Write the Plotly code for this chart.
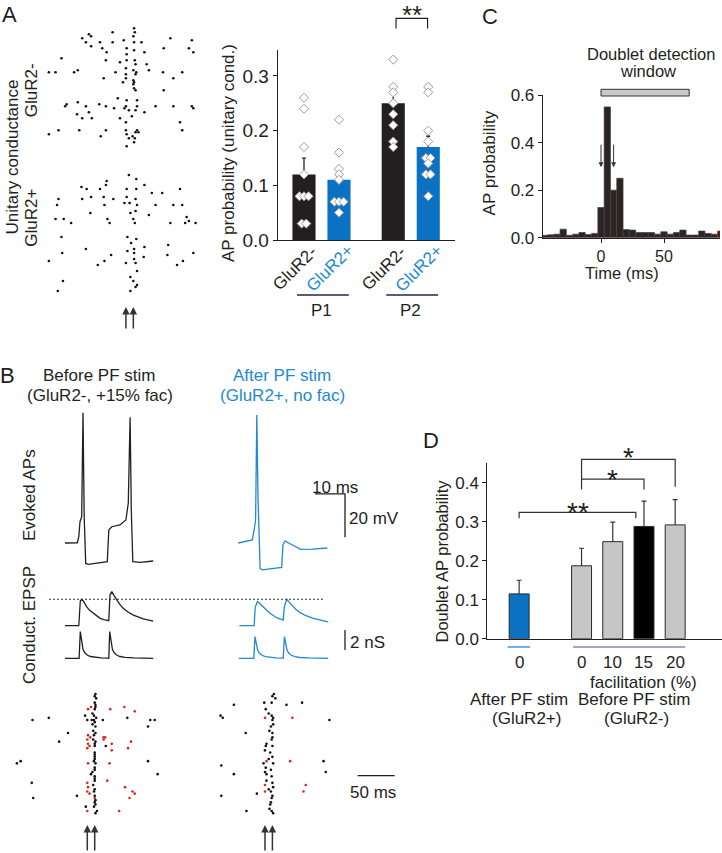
import plotly.graph_objects as go

W, H = 722, 853
FONT = "Liberation Sans, Arial, Helvetica, sans-serif"
INK = "#231f20"
BLUE_FILL = "#0a71c3"
BLUE = "#2189d1"
RED = "#e2231a"
GRAY_FILL = "#c6c6c6"

# ======================= DATA =======================
# Panel A raster: spike time (ms) and trial number
rasterA_minus_t = [1, -28, 2, -60, -69, -57, 50, 79, 0, -64, -45, -28, -13, 1, 11, -57, 41, 75, -9, -42,
                   1, 81, -36, 15, -9, -97, -37, -9, 2, -18, 3, 18, -114, -105, -80, -75, -10, 0, -40, -24,
                   4, 21, 40, 66, 3, -10, 54, -10, 0, -14, 1, 0, 1, 3, 41, -21, 5, -9, -92, -75,
                   -90, -64, -46, -37, -10, 5, 30, 54, 79, 81, -76, -60, -26, -12, -6, 3, -56, -2, -69, -18,
                   15, -10, 63, -114, -101, -73, -44, -37, -10, 5, 66, -9, -1, 3, 7, -6, 2, -9, 1]
rasterA_minus_trial = [0, 2, 2, 3, 5, 4, 5, 6, 4, 7, 7, 7, 6, 7, 7, 9, 10, 10, 10, 10,
                       11, 12, 12, 12, 13, 15, 16, 16, 16, 17, 18, 18, 22, 22, 22, 21, 20, 21, 25, 22,
                       22, 21, 22, 22, 23, 23, 25, 25, 26, 27, 27, 28, 30, 31, 31, 35, 36, 36, 39, 37,
                       38, 39, 38, 39, 39, 39, 39, 39, 39, 40, 43, 42, 40, 40, 41, 41, 45, 44, 45, 45,
                       42, 47, 47, 53, 51, 51, 54, 51, 51, 51, 51, 53, 54, 52, 52, 55, 55, 59, 57]
rasterA_plus_t = [-6, -36, -37, 4, 15, -70, -63, -45, -9, 4, 25, 39, 63, -101, -69, -57, -40, -27, -9, 3,
                  -103, -39, -12, -5, 5, 30, 54, 66, -4, 3, -58, -105, -94, -84, -35, -32, 0, 2, 21, 50,
                  72, 75, 70, 84, -97, -8, 4, -3, 47, 15, -64, -96, -8, 1, 1, 81, -114, -30, -39, -48,
                  -10, 1, 3, 5, 14, 46, 67, 59, -95, -4, 0, 5, 3, -102, -4]
rasterA_plus_trial = [0, 3, 5, 2, 5, 6, 7, 7, 7, 7, 9, 9, 7, 12, 12, 11, 11, 12, 11, 12,
                      15, 15, 14, 14, 15, 15, 15, 15, 19, 18, 19, 22, 22, 24, 22, 24, 22, 24, 20, 24,
                      21, 23, 24, 24, 31, 31, 32, 34, 35, 36, 37, 39, 38, 37, 39, 39, 43, 40, 43, 45,
                      44, 42, 44, 48, 41, 40, 43, 45, 53, 51, 53, 55, 56, 58, 58]
stimA_t = [-10, 0]

# Panel A bars: AP probability (unitary cond.)
barA_cond = ["GluR2-", "GluR2+", "GluR2-", "GluR2+"]
barA_age = ["P1", "P1", "P2", "P2"]
barA_mean = [0.12, 0.11, 0.25, 0.17]
barA_sem = [0.03, 0.02, 0.02, 0.02]
barA_cells = [
    [0.26, 0.24, 0.17, 0.12, 0.08, 0.08, 0.08, 0.03, 0.03],
    [0.22, 0.16, 0.13, 0.12, 0.11, 0.07, 0.07, 0.07, 0.05],
    [0.37, 0.33, 0.28, 0.27, 0.25, 0.23, 0.21, 0.18, 0.17],
    [0.28, 0.27, 0.20, 0.18, 0.15, 0.15, 0.14, 0.12, 0.12, 0.08],
]

# Panel C histogram (5 ms bins)
histC_t = [-45, -40, -35, -30, -25, -20, -15, -10, -5, 0, 5, 10, 15, 20, 25, 30, 35, 40, 45,
           50, 55, 60, 65, 70, 75, 80, 85, 90, 95]
histC_p = [0.010, 0.012, 0.015, 0.036, 0.010, 0.015, 0.022, 0.013, 0.018, 0.127, 0.55, 0.20, 0.25,
           0.034, 0.032, 0.022, 0.022, 0.022, 0.015, 0.025, 0.015, 0.022, 0.032, 0.011, 0.011,
           0.028, 0.018, 0.015, 0.028]
windowC = [0, 70]
stimC_t = [0, 10]

# Panel B traces (time ms)
ap_before_t = [-5, -0.9, -0.4, 0, 0.56, 1.0, 1.4, 1.9, 2.8, 9.1, 9.6, 10.6, 13.3, 15.3, 16.1, 16.7, 17.1,
               17.6, 20, 24.4]
ap_before_v = [-60, -59.9, -57.1, -50.2, -47.9, 0, -47.9, -69.4, -69.8, -68.6, -54.0, -52.5, -51.7, -49.4,
               -41.6, -2.1, -44.8, -68.6, -68.9, -68.3]
ap_after_t = [-5.6, -0.9, -0.3, 0.2, 0.6, 1.0, 1.7, 2.4, 8.9, 9.3, 10, 11, 12.4, 13.8, 15.2, 19.1, 24.1]
ap_after_v = [-60, -58.6, -54, -49.4, -1, -38.7, -71.7, -72.4, -71.2, -60.9, -59.1, -59.8, -60.9, -62.0,
              -62.9, -62.8, -62.3]
epsp_before_t = [-5, -0.4, 0.1, 0.6, 1.2, 2.2, 3.2, 4.4, 5.5, 6.7, 8.0, 9.1, 9.6, 10.0, 10.6, 11.2, 12.2,
                 13.2, 14.4, 16, 17.8, 19.5, 21.1, 24.4]
epsp_before_v = [0, 0, 11.4, 12.2, 11.2, 8.8, 7.1, 5.7, 4.4, 3.4, 2.8, 2.3, 2.3, 14.2, 15.7, 14.2, 11.9,
                 9.9, 8.0, 6.3, 4.9, 3.9, 3.1, 2.1]
epsp_after_t = [-5.2, -0.3, 0.1, 0.8, 1.6, 2.8, 3.9, 5.0, 6.1, 7.2, 8.3, 9.4, 9.8, 10.2, 10.6, 11.3, 12.2,
                13.5, 15.0, 17, 19.4, 22, 24.4]
epsp_after_v = [0, 0, 8.6, 11.1, 10.2, 8.8, 7.1, 5.7, 4.6, 3.7, 3.1, 2.6, 8.8, 11.2, 12.2, 11.0, 9.5,
                7.7, 6.0, 4.6, 3.4, 2.5, 1.8]
epsp_threshold = 12.2
g_before_t = [-5, -0.3, 0.1, 0.5, 1.0, 1.6, 2.4, 3.5, 5, 7, 9.5, 9.6, 9.9, 10.3, 10.8, 11.4, 12.2, 13.3,
              15, 18, 24.4]
g_before_v = [0, 0, 2.67, 1.6, 0.9, 0.55, 0.33, 0.18, 0.09, 0.04, 0.01, 0, 2.67, 1.6, 0.9, 0.55, 0.33,
              0.18, 0.09, 0.04, 0]
g_after_t = [-5.4, -0.4, 0, 0.4, 0.9, 1.5, 2.3, 3.5, 5, 7, 9.3, 9.4, 9.8, 10.2, 10.7, 11.3, 12.1, 13.3,
             15, 18, 24.4]
g_after_v = [0, 0, 2.17, 1.35, 0.8, 0.5, 0.3, 0.16, 0.08, 0.04, 0.01, 0, 2.17, 1.35, 0.8, 0.5, 0.3, 0.16,
             0.08, 0.04, 0]

# Panel B rasters (time ms, trial)
rB_pre_col_t = [11, 10, 12, 10, 11, 11, 10, 7, 9, 12, 9, 10, 7, 11, 8, 11, 9, 8, 11, 10, 10, 10, 10, 10,
                10, 9, 11, 10, 10, 7, 5, 10, 10, 10, 8, 10, 9, 10, 11, 10, 11, 9, 13, 11]
rB_pre_col_trial = [0, 1, 2, 4, 5, 6, 7, 9, 10, 11, 12, 13, 14, 15, 17, 18, 19, 21, 22, 23, 24, 27, 28, 29,
                    30, 31, 32, 34, 35, 36, 37, 38, 39, 40, 42, 44, 45, 47, 49, 50, 51, 52, 54, 55]
rB_pre_other_t = [-74, -52, -26, -38, -95, -90, -75, -73, -14, 21, 54, 82, 85, 91, 82, 95, 25, -2, -3, 0, 6]
rB_pre_other_trial = [12, 11, 18, 22, 32, 31, 41, 48, 47, 12, 11, 15, 12, 12, 31, 37, 24, 52, 10, 12, 12]
rB_pre_red_t = [1, 5, 1, 0, 4, 1, 0, 3, 1, 0, 1, 0, 3, 10, 0, 31, 50, 64, 22, 24, 22, 33, 59, 55, 30, 27,
                51, 61, 64, 57, 43, 33]
rB_pre_red_trial = [7, 6, 19, 21, 20, 23, 25, 24, 32, 41, 43, 45, 46, 48, 54, 7, 6, 8, 20, 20, 21, 23, 22,
                    25, 32, 40, 43, 45, 46, 48, 54, 26]
rB_post_col_t = [12, 10, 14, 9, -1, 1, 5, 9, 11, 10, 11, 8, 6, 10, 10, 9, 2, 1, 0, 7, 10, 5, 1, 8, 0, 2,
                 9, 2, 10, 11, 8, 10, 9, 8, 7, 6, 9, 11, 10, 11, 5]
rB_post_col_trial = [0, 1, 2, 4, 4, 7, 9, 10, 11, 12, 14, 15, 17, 18, 20, 21, 23, 24, 26, 27, 29, 30, 34,
                     35, 36, 37, 38, 40, 41, 43, 45, 47, 48, 50, 51, 53, 54, 55, 24, 32, 44]
rB_post_other_t = [-42, -60, -57, -26, -59, -42, -59, -11, -25, 29, 50, 87, 79, 82, -2]
rB_post_other_trial = [5, 10, 11, 18, 33, 37, 47, 46, 54, 5, 4, 12, 31, 36, 32]
rB_post_red_t = [0, 37, 2, 34, 0, 0, 55, 52]
rB_post_red_trial = [11, 11, 31, 31, 42, 45, 42, 45]
stimB_t = [0, 10]

# Panel D: doublet AP probability
D_fac = ["0", "0", "10", "15", "20"]
D_group = ["After", "Before", "Before", "Before", "Before"]
D_mean = [0.115, 0.187, 0.249, 0.288, 0.292]
D_err = [0.035, 0.045, 0.050, 0.065, 0.065]

# ======================= LAYOUT HELPERS =======================
def X(px):
    return px / W


def Y(py):
    return 1 - py / H


# subplot boxes in pixels: x=(left,right), y=(top,bottom)
AX = {
    1: dict(x=(40, 200), y=(26, 148), xr=[-126, 90], yr=[59.85, -1.15]),
    2: dict(x=(40, 200), y=(172, 296), xr=[-126, 90], yr=[60.5, -1.5]),
    3: dict(x=(277.7, 455), y=(50, 240), xr=[-0.751, 4.314], yr=[0, 0.3475]),
    4: dict(x=(542.7, 720), y=(95, 237.7), xr=[-46.27, 94.44], yr=[0, 0.6]),
    5: dict(x=(487.3, 722), y=(463.3, 638.7), xr=[-1.02, 6.5], yr=[0, 0.45]),
    6: dict(x=(50, 160), y=(400, 580), xr=[-10, 26.667], yr=[-77.05, 5.9]),
    7: dict(x=(225, 350), y=(400, 580), xr=[-10, 31.667], yr=[-77.05, 5.9]),
    8: dict(x=(50, 160), y=(585, 628), xr=[-10, 26.667], yr=[-1.06, 18.76]),
    9: dict(x=(225, 350), y=(585, 628), xr=[-10, 31.667], yr=[-1.06, 18.76]),
    10: dict(x=(50, 160), y=(628, 662), xr=[-10, 26.667], yr=[-0.37, 3.03]),
    11: dict(x=(225, 350), y=(628, 662), xr=[-10, 31.667], yr=[-0.37, 3.03]),
    12: dict(x=(10, 165), y=(688, 818), xr=[-104.36, 104.9], yr=[57.23, -2.77]),
    13: dict(x=(205, 400), y=(688, 818), xr=[-81, 182.25], yr=[57.23, -2.77]),
}


def yp(i, v):
    a = AX[i]
    r0, r1 = a["yr"]
    top, bot = a["y"]
    t = (v - r0) / (r1 - r0)
    return Y(bot - t * (bot - top))


def ax(i, letter):
    return letter if i == 1 else f"{letter}{i}"


traces = []


def line(xs, ys, i, color=INK, width=1.3, **kw):
    traces.append(go.Scatter(x=xs, y=ys, mode="lines", line=dict(color=color, width=width),
                             xaxis=ax(i, "x"), yaxis=ax(i, "y"), **kw))


def dots(xs, ys, i, color="#111111", size=2.6):
    traces.append(go.Scatter(x=xs, y=ys, mode="markers", cliponaxis=False,
                             marker=dict(color=color, size=size, line=dict(width=0)),
                             xaxis=ax(i, "x"), yaxis=ax(i, "y")))


# ---------- Panel A raster ----------
dots(rasterA_minus_t, rasterA_minus_trial, 1)
dots(rasterA_plus_t, rasterA_plus_trial, 2)

# ---------- Panel A bars ----------
barA_pos = []
for k, g in enumerate(barA_age):
    barA_pos.append(k + (0.55 if g == "P2" else 0.0))
barA_colors = [INK if c == "GluR2-" else BLUE_FILL for c in barA_cond]
traces.append(go.Bar(x=barA_pos, y=barA_mean, width=0.66, marker=dict(color=barA_colors, line=dict(width=0)),
                     xaxis="x3", yaxis="y3"))
ex, ey = [], []
for p, m, e in zip(barA_pos, barA_mean, barA_sem):
    ex += [p, p, None, p - 0.06, p + 0.06, None]
    ey += [m, m + e, None, m + e, m + e, None]
line(ex, ey, 3, color="#111111", width=1.2)
dx, dy = [], []
for p, vals in zip(barA_pos, barA_cells):
    for j, v in enumerate(vals):
        n = vals.count(v)
        k = vals[:j].count(v)
        dx.append(p + (k - (n - 1) / 2) * 0.13)
        dy.append(v)
traces.append(go.Scatter(x=dx, y=dy, mode="markers", cliponaxis=False,
                         marker=dict(symbol="diamond", size=7, color="white",
                                     line=dict(color="#9c9c9c", width=1)),
                         xaxis="x3", yaxis="y3"))

# ---------- Panel C histogram ----------
edge = ["#4a3c3c"] * (len(histC_t) - 1) + [RED]
traces.append(go.Bar(x=histC_t, y=histC_p, width=5,
                     marker=dict(color="#2a2424", line=dict(color=edge, width=0.7)),
                     xaxis="x4", yaxis="y4"))

# ---------- Panel D bars ----------
D_pos = [0, 2, 3, 4, 5]
D_colors = [BLUE_FILL, GRAY_FILL, GRAY_FILL, "#000000", GRAY_FILL]
traces.append(go.Bar(x=D_pos, y=D_mean, width=0.64,
                     marker=dict(color=D_colors, line=dict(color="#2a2a2a", width=1)),
                     xaxis="x5", yaxis="y5"))
ex, ey = [], []
for p, m, e in zip(D_pos, D_mean, D_err):
    ex += [p, p, None, p - 0.08, p + 0.08, None]
    ey += [m, m + e, None, m + e, m + e, None]
line(ex, ey, 5, color="#333333", width=1.2)

# ---------- Panel B traces ----------
line(ap_before_t, ap_before_v, 6)
line(ap_after_t, ap_after_v, 7, color=BLUE)
line(epsp_before_t, epsp_before_v, 8)
line(epsp_after_t, epsp_after_v, 9, color=BLUE)
line(g_before_t, g_before_v, 10)
line(g_after_t, g_after_v, 11, color=BLUE)
# scale bars
sb_t0, sb_v0 = 20, -37.4
line([sb_t0, sb_t0 + 10, sb_t0 + 10], [sb_v0, sb_v0, sb_v0 - 20], 7, width=1.3)
line([30, 30], [0.83, 0.83 + 2], 11, width=1.3)
line([125, 175], [37.7, 37.7], 13, width=1.3)

# ---------- Panel B rasters ----------
dots(rB_pre_col_t, rB_pre_col_trial, 12)
dots(rB_pre_other_t, rB_pre_other_trial, 12)
dots(rB_pre_red_t, rB_pre_red_trial, 12, color=RED)
dots(rB_post_col_t, rB_post_col_trial, 13)
dots(rB_post_other_t, rB_post_other_trial, 13)
dots(rB_post_red_t, rB_post_red_trial, 13, color=RED)

# ======================= AXES =======================
layout = dict(template="none", width=W, height=H, autosize=False,
              margin=dict(l=0, r=0, t=0, b=0, pad=0), paper_bgcolor="white",
              plot_bgcolor="rgba(0,0,0,0)", showlegend=False, hovermode=False,
              font=dict(family=FONT, size=17, color=INK))
for i, a in AX.items():
    layout["xaxis" if i == 1 else f"xaxis{i}"] = dict(domain=[X(a["x"][0]), X(a["x"][1])], range=a["xr"],
                                                     anchor=ax(i, "y"), visible=False, fixedrange=True,
                                                     automargin=False)
    layout["yaxis" if i == 1 else f"yaxis{i}"] = dict(domain=[Y(a["y"][1]), Y(a["y"][0])], range=a["yr"],
                                                     anchor=ax(i, "x"), visible=False, fixedrange=True,
                                                     automargin=False)


def vis(size=17, **kw):
    d = dict(visible=True, showline=True, linecolor=INK, linewidth=1, showgrid=False, zeroline=False,
             ticks="outside", ticklen=4, tickwidth=1, tickcolor=INK,
             tickfont=dict(family=FONT, size=size, color=INK))
    d.update(kw)
    return d


layout["xaxis3"].update(vis(ticks="", showticklabels=False))
layout["yaxis3"].update(vis(size=19, tickvals=[0, 0.1, 0.2, 0.3], tickformat=".1f"))
layout["xaxis4"].update(vis(size=16, tickvals=[0, 50]))
layout["yaxis4"].update(vis(size=17, tickvals=[0, 0.2, 0.4, 0.6], tickformat=".1f"))
layout["xaxis5"].update(vis(ticks="", showticklabels=False))
layout["yaxis5"].update(vis(tickvals=[0, 0.1, 0.2, 0.3, 0.4], tickformat=".1f"))

# ======================= ANNOTATIONS =======================
anns = []


def txt(text, px, py, size=17, color=INK, angle=0):
    anns.append(dict(text=text, x=X(px), y=Y(py), xref="paper", yref="paper", showarrow=False,
                     textangle=angle, xanchor="center", yanchor="middle",
                     font=dict(family=FONT, size=size, color=color)))


def dtxt(text, xref, x, py, size=17, color=INK, angle=0, yanchor="middle"):
    anns.append(dict(text=text, x=x, y=Y(py), xref=xref, yref="paper", showarrow=False,
                     textangle=angle, xanchor="center", yanchor=yanchor,
                     font=dict(family=FONT, size=size, color=color)))


def arrow(xref, x, y, yref, ay, width=1.5, size=1.0):
    anns.append(dict(text="", x=x, y=y, xref=xref, yref=yref, ax=0, ay=ay, showarrow=True,
                     arrowhead=2, arrowsize=size, arrowwidth=width, arrowcolor="#333333", standoff=0))


# panel letters
for L, px, py in [("A", 9.5, 14.5), ("B", 7.5, 375), ("C", 489.5, 16.5), ("D", 431, 441)]:
    txt(L, px, py, size=22)

# Panel A raster labels
txt("Unitary conductance", 12.5, 157, angle=-90)
txt("GluR2-", 31.3, 90, angle=-90)
txt("GluR2+", 31.3, 217.5, angle=-90)
for t in stimA_t:
    arrow("x", t, Y(307), "paper", 23)

# Panel A bar labels
txt("AP probability (unitary cond.)", 228, 153, angle=-90)
for p, c in zip(barA_pos, barA_cond):
    dtxt(c, "x3", p - 0.27, 268.5, color=(INK if c == "GluR2-" else BLUE), angle=-45)
shapes = []
for g in ["P1", "P2"]:
    ps = [p for p, a in zip(barA_pos, barA_age) if a == g]
    shapes.append(dict(type="line", xref="x3", yref="paper", x0=ps[0] - 0.2, x1=ps[-1] + 0.28,
                       y0=Y(295), y1=Y(295), line=dict(color="#5b5a7a", width=2)))
    dtxt(g, "x3", (ps[0] + ps[-1]) / 2, 310)
bx0, bx1 = barA_pos[2] + 0.08, barA_pos[3] - 0.02
shapes.append(dict(type="path", xref="x3", yref="paper",
                   path=f"M{bx0},{yp(3, 0.387)} L{bx0},{yp(3, 0.4055)} L{bx1},{yp(3, 0.4055)} L{bx1},{yp(3, 0.387)}",
                   line=dict(color=INK, width=1.2)))
dtxt("**", "x3", (bx0 + bx1) / 2, -1.5, size=26, yanchor="top")

# Panel C
txt("Doublet detection", 651, 53.5, size=16.5)
txt("window", 647.5, 70.5, size=16.5)
txt("AP probability", 489.4, 163, angle=-90)
txt("Time (ms)", 621.7, 273, size=16.5)
shapes.append(dict(type="rect", xref="x4", yref="paper", x0=windowC[0], x1=windowC[1], y0=Y(96), y1=Y(89.3),
                   fillcolor="#c8c8c8", line=dict(color="#333333", width=1)))
for t in stimC_t:
    arrow("x4", t, 0.2966, "y4", -24, width=1.0, size=1.0)

# Panel B labels
txt("Before PF stim", 98.5, 375)
txt("(GluR2-, +15% fac)", 100, 395.5)
txt("After PF stim", 282, 375, color=BLUE)
txt("(GluR2+, no fac)", 282.5, 395.5, color=BLUE)
txt("Evoked APs", 29, 495, angle=-90)
txt("Conduct. EPSP", 29, 625, angle=-90)
txt("10 ms", 335, 487.5)
txt("20 mV", 374, 518.5)
txt("2 nS", 367.5, 642.5)
txt("50 ms", 372.5, 792)
shapes.append(dict(type="line", xref="paper", yref="y8", x0=X(49), x1=X(325), y0=epsp_threshold,
                   y1=epsp_threshold, line=dict(color="#333333", width=1.2, dash="2px,2px")))
for t in stimB_t:
    arrow("x12", t, Y(825), "paper", 27)
    arrow("x13", t, Y(825), "paper", 27)

# Panel D labels
for p, f in zip(D_pos, D_fac):
    dtxt(f, "x5", p, 662)
txt("facilitation (%)", 643.5, 682)
txt("After PF stim", 519, 699.5)
txt("(GluR2+)", 526, 718.5)
txt("Before PF stim", 634, 699.5)
txt("(GluR2-)", 636.5, 718.5)
txt("Doublet AP probability", 441, 561.5, size=16.5, angle=-90)
shapes.append(dict(type="line", xref="x5", yref="paper", x0=D_pos[0] - 0.37, x1=D_pos[0] + 0.35,
                   y0=Y(647), y1=Y(647), line=dict(color="#3a9bdc", width=1.5)))
shapes.append(dict(type="line", xref="x5", yref="paper", x0=D_pos[1] - 0.27, x1=D_pos[-1] + 0.32,
                   y0=Y(647), y1=Y(647), line=dict(color="#8a8aa5", width=1.5)))
r = D_pos[3] - 0.26
brk = "#333333"
shapes.append(dict(type="path", xref="x5", yref="paper",
                   path=f"M{D_pos[0]},{yp(5, 0.309)} L{D_pos[0]},{yp(5, 0.324)} L{r},{yp(5, 0.324)} L{r},{yp(5, 0.309)}",
                   line=dict(color=brk, width=1.2)))
shapes.append(dict(type="path", xref="x5", yref="paper",
                   path=(f"M{D_pos[1]},{yp(5, 0.383)} L{D_pos[1]},{yp(5, 0.46)} L{D_pos[4]},{yp(5, 0.46)} "
                         f"L{D_pos[4]},{yp(5, 0.39)} M{D_pos[1]},{yp(5, 0.4095)} L{D_pos[3]},{yp(5, 0.4095)} "
                         f"L{D_pos[3]},{yp(5, 0.383)}"),
                   line=dict(color=brk, width=1.2)))
dtxt("**", "x5", (D_pos[0] + r) / 2, 512.3, size=28)
dtxt("*", "x5", (D_pos[1] + D_pos[3]) / 2, 479.6, size=28)
dtxt("*", "x5", (D_pos[1] + D_pos[4]) / 2, 458, size=28)

layout["annotations"] = anns
layout["shapes"] = shapes

fig = go.Figure(data=traces, layout=layout)
fig.write_html("out.html", config={"displayModeBar": False, "responsive": False},
               post_script="document.body.style.margin='0px';document.body.style.overflow='hidden';")
